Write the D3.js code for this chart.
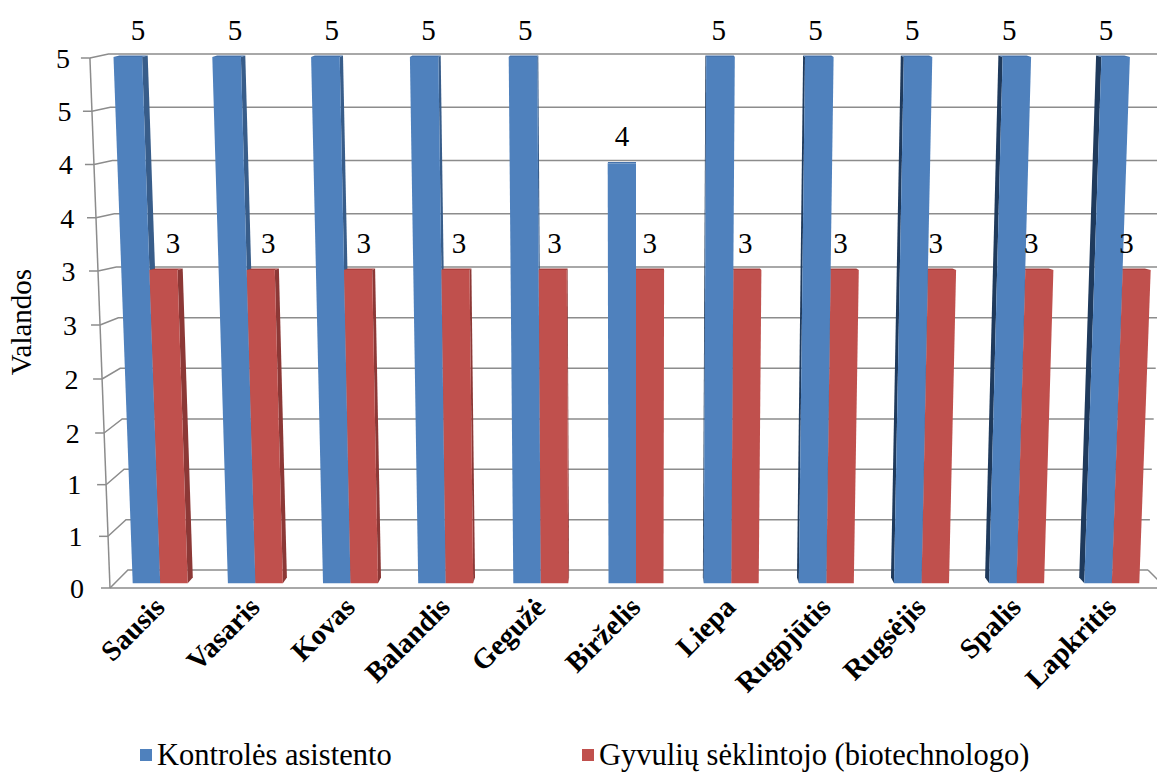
<!DOCTYPE html>
<html>
<head>
<meta charset="utf-8">
<script src="https://cdn.jsdelivr.net/npm/d3@7/dist/d3.min.js"></script>
<style>
  body { margin: 0; background: #fff; }
  svg { display: block; }
</style>
</head>
<body>
<div id="chart"></div>
<script>
// data
var months = ["Sausis", "Vasaris", "Kovas", "Balandis", "Gegužė", "Birželis", "Liepa", "Rugpjūtis", "Rugsėjis", "Spalis", "Lapkritis"];
var kontrolesValues = [5, 5, 5, 5, 5, 4, 5, 5, 5, 5, 5];
var seklintojoValues = [3, 3, 3, 3, 3, 3, 3, 3, 3, 3, 3];
var seriesNames = ["Kontrolės asistento", "Gyvulių sėklintojo (biotechnologo)"];
var yTickValues = [0, 0.5, 1, 1.5, 2, 2.5, 3, 3.5, 4, 4.5, 5];
var yTickLabels = ["0", "1", "1", "2", "2", "3", "3", "4", "4", "5", "5"];
var yTitle = "Valandos";

var totalWidth = 1157;
var totalHeight = 773;
var serif = "'Liberation Serif'";

var colors = [
    { front: "#4F81BD", top: "#4673AC", sideR: "#385D8A", sideL: "#1F3A5C" },
    { front: "#C0504D", top: "#A8413E", sideR: "#8C3836", sideL: "#6E2826" }
];

var svg = d3.select("#chart").append("svg")
    .attr("width", totalWidth)
    .attr("height", totalHeight);

// --- fake 3d: front plane (z=0) and back wall (z=1) value scales
var yFront = d3.scaleLinear().domain([0, 1.5, 3, 5]).range([588, 433, 271, 58]);
var yBack = d3.scaleLinear().domain([0, 1.5, 3, 5]).range([570, 419, 267, 54]);
var xc = 636;            // vanishing centre
var depthShrink = 0.034; // horizontal shrink front -> back
var persp = 0.000072;    // verticals spread out going up

function project(X, v, z) {
    var yf = yFront(v), yb = yBack(v);
    var y = yf + z * (yb - yf);
    var s = (1 - depthShrink * z) * (1 + persp * (588 - yf));
    return [xc + (X - xc) * s, y];
}

function poly(points) {
    return points.map(function(p) { return p[0].toFixed(1) + "," + p[1].toFixed(1); }).join(" ");
}

var xScale = d3.scaleBand()
    .domain(months)
    .range([108, 1164])
    .paddingInner(0.422)
    .paddingOuter(0.211);

var xSub = d3.scaleBand()
    .domain([0, 1])
    .range([0, xScale.bandwidth()]);

var floorLeft = 110, floorRight = 1166;
var z0 = 0.26, z1 = 0.59;

var plot = svg.append("g");

// gridlines: connector on the left wall, then along back wall
var grid = plot.append("g");
yTickValues.forEach(function(v) {
    var a = project(floorLeft, v, 0);
    var b = project(floorLeft, v, 1);
    var c = project(floorRight, v, 1);
    grid.append("polyline")
        .attr("points", poly([a, b, c]))
        .attr("fill", "none")
        .attr("stroke", "#8C8C8C")
        .attr("stroke-width", 1.5);
});

// floor outline (front edge + right edge)
plot.append("polyline")
    .attr("points", poly([project(floorLeft, 0, 0), project(floorRight, 0, 0), project(floorRight, 0, 1)]))
    .attr("fill", "none")
    .attr("stroke", "#8C8C8C")
    .attr("stroke-width", 1.5);

// y axis line (front left edge)
plot.append("line")
    .attr("x1", project(floorLeft, 0, 0)[0]).attr("y1", project(floorLeft, 0, 0)[1])
    .attr("x2", project(floorLeft, 5, 0)[0]).attr("y2", project(floorLeft, 5, 0)[1])
    .attr("stroke", "#8C8C8C")
    .attr("stroke-width", 1.5);

plot.selectAll(".ytick")
    .data(yTickValues)
    .enter()
    .append("line")
    .attr("class", "ytick")
    .attr("x1", d => project(floorLeft, d, 0)[0] - 9)
    .attr("x2", d => project(floorLeft, d, 0)[0])
    .attr("y1", d => project(floorLeft, d, 0)[1])
    .attr("y2", d => project(floorLeft, d, 0)[1])
    .attr("stroke", "#8C8C8C")
    .attr("stroke-width", 1.5);

// bars
var bars = [];
months.forEach(function(m, i) {
    [kontrolesValues[i], seklintojoValues[i]].forEach(function(v, s) {
        var xa = xScale(m) + xSub(s);
        var xb = xa + xSub.bandwidth();
        bars.push({ month: m, series: s, value: v, xa: xa, xb: xb, mid: (xa + xb) / 2 });
    });
});
// paint far-from-centre bars first
bars.sort(function(a, b) { return Math.abs(b.mid - xc) - Math.abs(a.mid - xc); });

var barGroup = plot.append("g");
bars.forEach(function(d) {
    var c = colors[d.series];
    var g = barGroup.append("g");
    var v = d.value;
    if (d.mid < xc) {
        g.append("polygon")
            .attr("points", poly([project(d.xb, 0, z0), project(d.xb, 0, z1), project(d.xb, v, z1), project(d.xb, v, z0)]))
            .attr("fill", c.sideR);
    } else {
        g.append("polygon")
            .attr("points", poly([project(d.xa, 0, z0), project(d.xa, 0, z1), project(d.xa, v, z1), project(d.xa, v, z0)]))
            .attr("fill", c.sideL);
    }
    g.append("polygon")
        .attr("points", poly([project(d.xa, v, z0), project(d.xb, v, z0), project(d.xb, v, z1), project(d.xa, v, z1)]))
        .attr("fill", c.top);
    g.append("polygon")
        .attr("points", poly([project(d.xa, 0, z0), project(d.xb, 0, z0), project(d.xb, v, z0), project(d.xa, v, z0)]))
        .attr("fill", c.front);
});

// data labels
svg.append("g").selectAll("text")
    .data(bars)
    .enter()
    .append("text")
    .attr("x", d => project(d.mid, d.value, 0.85)[0])
    .attr("y", d => project(d.mid, d.value, z0)[1] - 17)
    .attr("text-anchor", "middle")
    .attr("font-family", serif)
    .attr("font-size", 29)
    .attr("fill", "#000")
    .text(d => d3.format(".0f")(d.value));

// y tick labels
var labelX = d3.scaleLinear().domain([0, 5]).range([84, 70]);
svg.append("g").selectAll("text")
    .data(yTickValues)
    .enter()
    .append("text")
    .attr("x", d => labelX(d))
    .attr("y", d => project(floorLeft, d, 0)[1])
    .attr("dy", "0.35em")
    .attr("text-anchor", "end")
    .attr("font-family", serif)
    .attr("font-size", 28)
    .attr("fill", "#000")
    .text((d, i) => yTickLabels[i]);

// y title
svg.append("text")
    .attr("transform", "translate(31,322) rotate(-90)")
    .attr("text-anchor", "middle")
    .attr("font-family", serif)
    .attr("font-size", 29)
    .attr("fill", "#000")
    .text(yTitle);

// category labels
svg.append("g").selectAll("text")
    .data(months)
    .enter()
    .append("text")
    .attr("transform", function(d) {
        var p = project(xScale(d) + xScale.bandwidth() / 2, 0, z0);
        return "translate(" + (p[0] + 6) + ",609) rotate(-45)";
    })
    .attr("text-anchor", "end")
    .attr("font-family", serif)
    .attr("font-weight", "bold")
    .attr("font-size", 28.5)
    .attr("fill", "#000")
    .text(d => d);

// legend
var legendX = [140, 582];
var legend = svg.append("g").selectAll("g")
    .data(seriesNames)
    .enter()
    .append("g")
    .attr("transform", (d, i) => "translate(" + legendX[i] + ",0)");
legend.append("rect")
    .attr("x", 0).attr("y", 749)
    .attr("width", 12).attr("height", 12)
    .attr("fill", (d, i) => colors[i].front);
legend.append("text")
    .attr("x", 17)
    .attr("y", 765)
    .attr("font-family", serif)
    .attr("font-size", 30.5)
    .attr("fill", "#000")
    .text(d => d);
</script>
</body>
</html>
